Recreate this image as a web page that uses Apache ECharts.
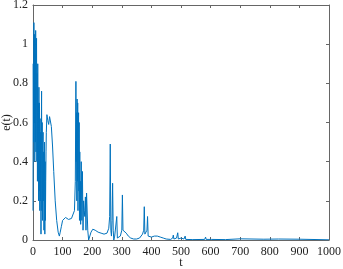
<!DOCTYPE html>
<html>
<head>
<meta charset="utf-8">
<script src="https://cdn.jsdelivr.net/npm/echarts@6/dist/echarts.min.js"></script>
<style>
html,body{margin:0;padding:0;background:#fff;}
#chart{width:343px;height:269px;}
</style>
</head>
<body>
<div id="chart"></div>
<script>
var tValues = [0,1,2,3,4,5,6,7,8,9,10,11,12,13,14,15,16,17,18,19,20,21,22,23,24,25,26,27,28,29,30,31,32,33,34,35,36,37,38,39,40,41,42,43,44,45,47,50,53,56,58,62,66,70,75,80,85,89,92,96,100,105,110,115,120,125,130,135,140,143,145,146,147,148,149,150,151,152,153,154,155,156,157,158,159,160,161,162,163,165,167,169,171,173,175,177,179,181,183,185,188,192,196,202,210,220,230,240,250,256,259,261,263,265,267,269,271,273,276,280,283,285,290,295,300,302,304,308,315,322,330,340,350,360,370,374,376,378,382,385,387,389,395,400,410,420,430,440,450,465,472,474,476,485,489,491,500,510,514,516,540,580,583,585,602,604,606,650,700,702,780,782,830,832,900,902,1000];
var eValues = [0.15,0.9,0.5,1.11,0.6,1.05,0.4,0.95,0.5,1.07,0.45,0.9,1.03,0.4,0.85,0.3,0.9,0.35,0.7,0.2,0.78,0.25,0.7,0.15,0.62,0.2,0.55,0.03,0.5,0.76,0.15,0.6,0.1,0.45,0.55,0.2,0.45,0.05,0.3,0.5,0.03,0.4,0.1,0.3,0.45,0.55,0.64,0.61,0.59,0.63,0.64,0.58,0.48,0.35,0.2,0.1,0.04,0.02,0.04,0.07,0.1,0.11,0.115,0.11,0.105,0.105,0.11,0.12,0.15,0.3,0.81,0.4,0.65,0.2,0.72,0.3,0.7,0.15,0.55,0.65,0.25,0.6,0.1,0.45,0.2,0.3,0.08,0.25,0.4,0.1,0.35,0.05,0.2,0.15,0.12,0.22,0.05,0.24,0.25,0.05,0.0,0.01,0.04,0.055,0.05,0.04,0.035,0.03,0.035,0.06,0.12,0.49,0.05,0.02,0.1,0.29,0.05,0.0,0.02,0.01,0.12,0.01,0.01,0.02,0.05,0.23,0.05,0.04,0.035,0.02,0.01,0.005,0.005,0.01,0.03,0.05,0.17,0.03,0.02,0.05,0.12,0.02,0.01,0.015,0.02,0.02,0.015,0.01,0.005,0.003,0.01,0.025,0.005,0.01,0.037,0.005,0.01,0.005,0.02,0.003,0.002,0.003,0.015,0.003,0.003,0.012,0.002,0.002,0.006,0.001,0.004,0.001,0.005,0.001,0.004,0.001,0.001];
var xTicks = [0,100,200,300,400,500,600,700,800,900,1000];
var yTicks = [0,0.2,0.4,0.6,0.8,1,1.2];

var seriesData = tValues.map(function(t,i){ return [t,eValues[i]]; });

var axisColor = '#666';
var serif = 'Liberation Serif, Times New Roman, serif';
var labelFont = {fontFamily:serif,fontSize:12,color:'#222'};

var chart = echarts.init(document.getElementById('chart'));
chart.setOption({
	animation:false,
	backgroundColor:'#fff',
	grid:{left:33,right:14,top:5,bottom:29,containLabel:false,outerBoundsMode:'none'},
	xAxis:[{
		type:'value',min:xTicks[0],max:xTicks[xTicks.length-1],interval:100,
		name:'t',nameLocation:'middle',nameGap:17,nameMoveOverlap:false,
		nameTextStyle:{fontFamily:serif,fontSize:12,color:'#222'},
		axisLine:{onZero:false,lineStyle:{color:axisColor}},
		axisTick:{inside:true,length:3,lineStyle:{color:axisColor}},
		axisLabel:Object.assign({margin:6,formatter:function(v){ return String(v); }},labelFont),
		splitLine:{show:false}
	},{
		type:'value',position:'top',min:xTicks[0],max:xTicks[xTicks.length-1],interval:100,
		axisLine:{onZero:false,lineStyle:{color:axisColor}},
		axisTick:{inside:true,length:3,lineStyle:{color:axisColor}},
		axisLabel:{show:false},splitLine:{show:false}
	}],
	yAxis:[{
		type:'value',min:yTicks[0],max:yTicks[yTicks.length-1],interval:0.2,
		name:'e(t)',nameLocation:'middle',nameGap:20,nameMoveOverlap:false,
		nameTextStyle:{fontFamily:serif,fontSize:12,color:'#222'},
		axisLine:{show:true,onZero:false,lineStyle:{color:axisColor}},
		axisTick:{show:true,inside:true,length:3,lineStyle:{color:axisColor}},
		axisLabel:Object.assign({margin:5,formatter:function(v){ return String(+v.toFixed(1)); }},labelFont),
		splitLine:{show:false}
	},{
		type:'value',position:'right',min:yTicks[0],max:yTicks[yTicks.length-1],interval:0.2,
		axisLine:{show:true,onZero:false,lineStyle:{color:axisColor}},
		axisTick:{show:true,inside:true,length:3,lineStyle:{color:axisColor}},
		axisLabel:{show:false},splitLine:{show:false}
	}],
	series:[{
		type:'line',
		data:seriesData,
		showSymbol:false,
		lineStyle:{color:'#0072BD',width:1},
		z:1
	}]
});
</script>
</body>
</html>
